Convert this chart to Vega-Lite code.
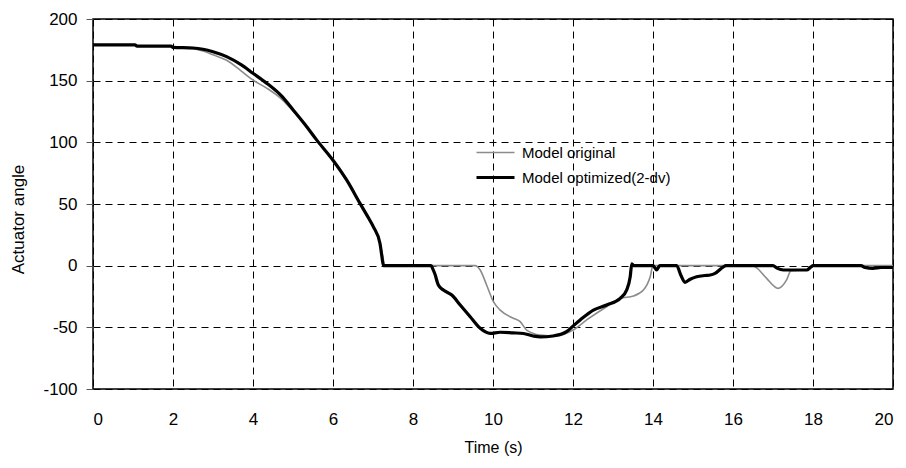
{
  "$schema": "https://vega.github.io/schema/vega-lite/v6.json",
  "width": 800,
  "height": 370,
  "autosize": "none",
  "padding": {"left": 93, "top": 19, "right": 13, "bottom": 79},
  "background": "white",
  "config": {
    "font": "Liberation Sans",
    "view": {"stroke": "black", "strokeWidth": 1.5},
    "axis": {
      "grid": true,
      "gridColor": "black",
      "gridDash": [7, 5],
      "gridWidth": 1,
      "gridOpacity": 1,
      "domain": false,
      "labelColor": "black",
      "titleColor": "black",
      "labelFont": "Liberation Sans",
      "titleFont": "Liberation Sans",
      "titleFontWeight": "normal",
      "labelFontSize": 17,
      "titleFontSize": 16,
      "labelExpr": "'' + datum.value"
    }
  },
  "data": {
    "values": [
      {"t": 0, "angle": 179, "series": "Model original"},
      {"t": 1.05, "angle": 179, "series": "Model original"},
      {"t": 1.1, "angle": 178, "series": "Model original"},
      {"t": 1.95, "angle": 178, "series": "Model original"},
      {"t": 2.0, "angle": 177, "series": "Model original"},
      {"t": 2.5, "angle": 176, "series": "Model original"},
      {"t": 2.75, "angle": 174, "series": "Model original"},
      {"t": 3.0, "angle": 171, "series": "Model original"},
      {"t": 3.34, "angle": 166.5, "series": "Model original"},
      {"t": 3.7, "angle": 158, "series": "Model original"},
      {"t": 4.0, "angle": 150.5, "series": "Model original"},
      {"t": 4.34, "angle": 144, "series": "Model original"},
      {"t": 4.7, "angle": 135.5, "series": "Model original"},
      {"t": 5.0, "angle": 125.5, "series": "Model original"},
      {"t": 5.3, "angle": 114.5, "series": "Model original"},
      {"t": 5.59, "angle": 102, "series": "Model original"},
      {"t": 6.0, "angle": 85.5, "series": "Model original"},
      {"t": 6.34, "angle": 69.5, "series": "Model original"},
      {"t": 6.675, "angle": 50.5, "series": "Model original"},
      {"t": 6.9, "angle": 38, "series": "Model original"},
      {"t": 7.01, "angle": 31.5, "series": "Model original"},
      {"t": 7.175, "angle": 18, "series": "Model original"},
      {"t": 7.24, "angle": 8, "series": "Model original"},
      {"t": 7.3, "angle": 0, "series": "Model original"},
      {"t": 9.55, "angle": 0, "series": "Model original"},
      {"t": 9.68, "angle": -3.5, "series": "Model original"},
      {"t": 9.84, "angle": -15.7, "series": "Model original"},
      {"t": 10.01, "angle": -29.2, "series": "Model original"},
      {"t": 10.18, "angle": -36, "series": "Model original"},
      {"t": 10.51, "angle": -42.7, "series": "Model original"},
      {"t": 10.68, "angle": -45.4, "series": "Model original"},
      {"t": 10.84, "angle": -52.2, "series": "Model original"},
      {"t": 11.18, "angle": -56.2, "series": "Model original"},
      {"t": 11.59, "angle": -57, "series": "Model original"},
      {"t": 12.0, "angle": -52.2, "series": "Model original"},
      {"t": 12.34, "angle": -44, "series": "Model original"},
      {"t": 12.84, "angle": -33.3, "series": "Model original"},
      {"t": 13.18, "angle": -26.5, "series": "Model original"},
      {"t": 13.51, "angle": -24.6, "series": "Model original"},
      {"t": 13.76, "angle": -19.8, "series": "Model original"},
      {"t": 13.93, "angle": -9, "series": "Model original"},
      {"t": 14.0, "angle": 0, "series": "Model original"},
      {"t": 16.5, "angle": 0, "series": "Model original"},
      {"t": 16.6, "angle": -2, "series": "Model original"},
      {"t": 16.84, "angle": -10.3, "series": "Model original"},
      {"t": 17.13, "angle": -18.4, "series": "Model original"},
      {"t": 17.34, "angle": -11.6, "series": "Model original"},
      {"t": 17.45, "angle": -4, "series": "Model original"},
      {"t": 17.84, "angle": -3.5, "series": "Model original"},
      {"t": 18.0, "angle": 0, "series": "Model original"},
      {"t": 20, "angle": 0, "series": "Model original"},

      {"t": 0, "angle": 179, "series": "Model optimized(2-dv)"},
      {"t": 1.05, "angle": 179, "series": "Model optimized(2-dv)"},
      {"t": 1.1, "angle": 178, "series": "Model optimized(2-dv)"},
      {"t": 1.95, "angle": 178, "series": "Model optimized(2-dv)"},
      {"t": 2.0, "angle": 177, "series": "Model optimized(2-dv)"},
      {"t": 2.5, "angle": 176.5, "series": "Model optimized(2-dv)"},
      {"t": 2.75, "angle": 175.5, "series": "Model optimized(2-dv)"},
      {"t": 3.0, "angle": 173.5, "series": "Model optimized(2-dv)"},
      {"t": 3.34, "angle": 169.5, "series": "Model optimized(2-dv)"},
      {"t": 3.7, "angle": 163, "series": "Model optimized(2-dv)"},
      {"t": 4.0, "angle": 156, "series": "Model optimized(2-dv)"},
      {"t": 4.34, "angle": 148, "series": "Model optimized(2-dv)"},
      {"t": 4.7, "angle": 138, "series": "Model optimized(2-dv)"},
      {"t": 5.0, "angle": 126.5, "series": "Model optimized(2-dv)"},
      {"t": 5.3, "angle": 114.5, "series": "Model optimized(2-dv)"},
      {"t": 5.59, "angle": 102, "series": "Model optimized(2-dv)"},
      {"t": 6.0, "angle": 85.5, "series": "Model optimized(2-dv)"},
      {"t": 6.34, "angle": 69.5, "series": "Model optimized(2-dv)"},
      {"t": 6.675, "angle": 50.5, "series": "Model optimized(2-dv)"},
      {"t": 6.9, "angle": 38, "series": "Model optimized(2-dv)"},
      {"t": 7.01, "angle": 31.5, "series": "Model optimized(2-dv)"},
      {"t": 7.175, "angle": 18, "series": "Model optimized(2-dv)"},
      {"t": 7.22, "angle": 8, "series": "Model optimized(2-dv)"},
      {"t": 7.26, "angle": 0, "series": "Model optimized(2-dv)"},
      {"t": 8.45, "angle": 0, "series": "Model optimized(2-dv)"},
      {"t": 8.5, "angle": -3, "series": "Model optimized(2-dv)"},
      {"t": 8.55, "angle": -7, "series": "Model optimized(2-dv)"},
      {"t": 8.63, "angle": -15.5, "series": "Model optimized(2-dv)"},
      {"t": 8.76, "angle": -19.8, "series": "Model optimized(2-dv)"},
      {"t": 8.97, "angle": -23.8, "series": "Model optimized(2-dv)"},
      {"t": 9.18, "angle": -31.9, "series": "Model optimized(2-dv)"},
      {"t": 9.43, "angle": -41.4, "series": "Model optimized(2-dv)"},
      {"t": 9.68, "angle": -50.8, "series": "Model optimized(2-dv)"},
      {"t": 9.93, "angle": -54.9, "series": "Model optimized(2-dv)"},
      {"t": 10.18, "angle": -54, "series": "Model optimized(2-dv)"},
      {"t": 10.5, "angle": -54.5, "series": "Model optimized(2-dv)"},
      {"t": 10.76, "angle": -55, "series": "Model optimized(2-dv)"},
      {"t": 11.0, "angle": -57, "series": "Model optimized(2-dv)"},
      {"t": 11.18, "angle": -57.8, "series": "Model optimized(2-dv)"},
      {"t": 11.5, "angle": -57, "series": "Model optimized(2-dv)"},
      {"t": 11.84, "angle": -53.5, "series": "Model optimized(2-dv)"},
      {"t": 12.0, "angle": -49, "series": "Model optimized(2-dv)"},
      {"t": 12.18, "angle": -44, "series": "Model optimized(2-dv)"},
      {"t": 12.51, "angle": -36, "series": "Model optimized(2-dv)"},
      {"t": 12.84, "angle": -31.9, "series": "Model optimized(2-dv)"},
      {"t": 13.18, "angle": -26.5, "series": "Model optimized(2-dv)"},
      {"t": 13.34, "angle": -19.8, "series": "Model optimized(2-dv)"},
      {"t": 13.43, "angle": -9, "series": "Model optimized(2-dv)"},
      {"t": 13.47, "angle": 1.5, "series": "Model optimized(2-dv)"},
      {"t": 13.52, "angle": 0, "series": "Model optimized(2-dv)"},
      {"t": 14.0, "angle": 0, "series": "Model optimized(2-dv)"},
      {"t": 14.09, "angle": -3.5, "series": "Model optimized(2-dv)"},
      {"t": 14.17, "angle": 0, "series": "Model optimized(2-dv)"},
      {"t": 14.59, "angle": 0, "series": "Model optimized(2-dv)"},
      {"t": 14.7, "angle": -8, "series": "Model optimized(2-dv)"},
      {"t": 14.8, "angle": -13.5, "series": "Model optimized(2-dv)"},
      {"t": 14.93, "angle": -11, "series": "Model optimized(2-dv)"},
      {"t": 15.09, "angle": -9, "series": "Model optimized(2-dv)"},
      {"t": 15.3, "angle": -8, "series": "Model optimized(2-dv)"},
      {"t": 15.43, "angle": -7.6, "series": "Model optimized(2-dv)"},
      {"t": 15.55, "angle": -6.3, "series": "Model optimized(2-dv)"},
      {"t": 15.76, "angle": -1, "series": "Model optimized(2-dv)"},
      {"t": 15.82, "angle": 0, "series": "Model optimized(2-dv)"},
      {"t": 17.0, "angle": 0, "series": "Model optimized(2-dv)"},
      {"t": 17.1, "angle": -2, "series": "Model optimized(2-dv)"},
      {"t": 17.26, "angle": -3.5, "series": "Model optimized(2-dv)"},
      {"t": 17.84, "angle": -3.5, "series": "Model optimized(2-dv)"},
      {"t": 17.95, "angle": -1, "series": "Model optimized(2-dv)"},
      {"t": 18.0, "angle": 0, "series": "Model optimized(2-dv)"},
      {"t": 19.2, "angle": 0, "series": "Model optimized(2-dv)"},
      {"t": 19.3, "angle": -1.5, "series": "Model optimized(2-dv)"},
      {"t": 19.5, "angle": -2.2, "series": "Model optimized(2-dv)"},
      {"t": 19.7, "angle": -1.5, "series": "Model optimized(2-dv)"},
      {"t": 20, "angle": -1.5, "series": "Model optimized(2-dv)"}
    ]
  },
  "encoding": {
    "x": {
      "field": "t",
      "type": "quantitative",
      "scale": {"domain": [0, 20], "nice": false, "zero": false},
      "axis": {
        "title": "Time (s)",
        "values": [0, 2, 4, 6, 8, 10, 12, 14, 16, 18, 20],
        "ticks": false,
        "labelPadding": 22,
        "titleY": 58,
        "titleBaseline": "middle"
      }
    },
    "y": {
      "field": "angle",
      "type": "quantitative",
      "scale": {"domain": [-100, 200], "nice": false, "zero": false},
      "axis": {
        "title": "Actuator angle",
        "values": [-100, -50, 0, 50, 100, 150, 200],
        "tickSize": 7,
        "tickColor": "#555555",
        "labelPadding": 9,
        "titleX": -75,
        "titleY": 200,
        "titleBaseline": "middle",
        "titleFontSize": 17
      }
    },
    "color": {
      "field": "series",
      "type": "nominal",
      "scale": {"domain": ["Model original", "Model optimized(2-dv)"], "range": ["#8c8c8c", "#000000"]},
      "legend": {
        "title": null,
        "orient": "none",
        "legendX": 391,
        "legendY": 123,
        "symbolType": "M-2,0H2",
        "symbolSize": 361,
        "symbolFillColor": "transparent",
        "labelFontSize": 15,
        "labelOffset": 15,
        "rowPadding": 5,
        "padding": 0,
        "labelColor": "black"
      }
    },
    "strokeWidth": {
      "field": "series",
      "type": "nominal",
      "scale": {"domain": ["Model original", "Model optimized(2-dv)"], "range": [1.6, 3.2]},
      "legend": {
        "title": null,
        "orient": "none",
        "legendX": 391,
        "legendY": 123,
        "symbolType": "M-2,0H2",
        "symbolSize": 361,
        "symbolFillColor": "transparent",
        "labelFontSize": 15,
        "labelOffset": 15,
        "rowPadding": 5,
        "padding": 0,
        "labelColor": "black"
      }
    }
  },
  "layer": [
    {
      "transform": [{"filter": "datum.series == 'Model original'"}],
      "mark": {"type": "line", "interpolate": "monotone"}
    },
    {
      "transform": [{"filter": "datum.series == 'Model optimized(2-dv)'"}],
      "mark": {"type": "line", "interpolate": "monotone"}
    }
  ]
}
